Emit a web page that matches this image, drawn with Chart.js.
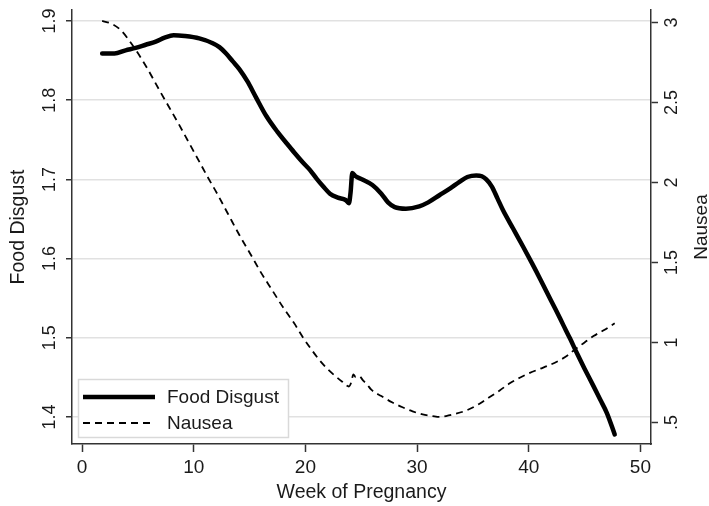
<!DOCTYPE html>
<html><head><meta charset="utf-8">
<script src="https://cdn.jsdelivr.net/npm/chart.js@4.4.1/dist/chart.umd.min.js"></script>
<style>html,body{margin:0;padding:0;background:#fff;}#wrap{width:709px;height:506px;}</style>
</head><body><div id="wrap"><canvas id="c" width="709" height="506"></canvas></div>
<script>
const disgustWeeks  = [1.8, 2.9, 3.9, 4.8, 5.7, 6.6, 7.4, 8.2, 9.2, 10.5, 11.7, 12.3, 12.9, 13.5, 14.1, 14.8, 15.6, 16.5, 17.5, 18.3, 19.0, 19.8, 20.4, 21.0, 21.6, 22.2, 22.9, 23.6, 23.9, 24.05, 24.2, 24.5, 25.1, 26.0, 26.8, 27.4, 28.0, 29.0, 30.2, 31.0, 32.0, 33.0, 33.8, 34.5, 35.3, 35.8, 36.2, 36.7, 37.2, 37.7, 38.6, 39.5, 40.3, 41.0, 41.6, 42.4, 43.1, 43.7, 44.3, 45.0, 45.8, 46.4, 47.0, 47.7];
const disgustValues = [1.859, 1.859, 1.863, 1.866, 1.870, 1.874, 1.879, 1.882, 1.881, 1.878, 1.872, 1.867, 1.859, 1.849, 1.839, 1.824, 1.803, 1.780, 1.760, 1.746, 1.734, 1.721, 1.712, 1.701, 1.691, 1.682, 1.677, 1.674, 1.670, 1.684, 1.708, 1.704, 1.700, 1.693, 1.682, 1.671, 1.665, 1.663, 1.666, 1.671, 1.680, 1.689, 1.697, 1.703, 1.705, 1.704, 1.700, 1.691, 1.676, 1.661, 1.638, 1.615, 1.594, 1.575, 1.558, 1.536, 1.516, 1.499, 1.481, 1.461, 1.439, 1.422, 1.405, 1.378];
const nauseaWeeks  = [1.8, 2.7, 3.5, 4.4, 5.7, 6.9, 7.8, 8.7, 9.6, 10.5, 11.2, 12.1, 13.1, 14.1, 15.1, 16.0, 17.0, 18.0, 19.0, 19.8, 20.5, 21.2, 21.9, 22.6, 23.3, 23.9, 24.1, 24.3, 24.5, 24.8, 25.2, 25.5, 25.9, 26.8, 27.8, 28.7, 29.6, 30.5, 31.4, 32.0, 32.6, 33.5, 34.4, 35.3, 36.2, 37.4, 38.3, 39.2, 40.1, 41.0, 41.9, 42.8, 43.5, 44.1, 45.0, 45.8, 46.8, 47.7];
const nauseaValues = [3.01, 2.99, 2.95, 2.87, 2.73, 2.58, 2.47, 2.36, 2.245, 2.13, 2.04, 1.93, 1.80, 1.67, 1.55, 1.44, 1.33, 1.22, 1.12, 1.03, 0.96, 0.895, 0.84, 0.795, 0.755, 0.725, 0.75, 0.80, 0.785, 0.79, 0.76, 0.74, 0.705, 0.665, 0.625, 0.595, 0.57, 0.55, 0.54, 0.535, 0.54, 0.555, 0.575, 0.605, 0.645, 0.70, 0.745, 0.78, 0.81, 0.835, 0.86, 0.89, 0.92, 0.955, 1.00, 1.04, 1.08, 1.12];
const seriesLabels = ['Food Disgust', 'Nausea'];
const xTicks = [0, 10, 20, 30, 40, 50];
const xTickLabels = ['0', '10', '20', '30', '40', '50'];
const leftTicks = [1.4, 1.5, 1.6, 1.7, 1.8, 1.9];
const leftTickLabels = ['1.4', '1.5', '1.6', '1.7', '1.8', '1.9'];
const rightTicks = [0.5, 1, 1.5, 2, 2.5, 3];
const rightTickLabels = ['.5', '1', '1.5', '2', '2.5', '3'];
const xTitle = 'Week of Pregnancy';
const leftTitle = 'Food Disgust';
const rightTitle = 'Nausea';

const FONT = '"Liberation Sans", Arial, Helvetica, sans-serif';
const INK = '#1a1a1a';
const AXIS = '#333';

function pts(xs, ys){ return xs.map((x,i)=>({x:x, y:ys[i]})); }

const textPlugin = {
  id: 'texts',
  afterDraw(chart){
    const ctx = chart.ctx;
    const sx = chart.scales.x, sl = chart.scales.yL, sr = chart.scales.yR;
    const ca = chart.chartArea;
    ctx.save();
    ctx.fillStyle = INK;
    ctx.font = '19px ' + FONT;
    ctx.textAlign = 'center'; ctx.textBaseline = 'alphabetic';
    xTicks.forEach((v,i)=>ctx.fillText(xTickLabels[i], sx.getPixelForValue(v), 473));
    ctx.font = '19.5px ' + FONT;
    ctx.fillText(xTitle, (ca.left + ca.right)/2, 498);
    function rot(text, x, y, font){
      ctx.save(); ctx.translate(x, y); ctx.rotate(-Math.PI/2);
      ctx.font = font; ctx.textAlign = 'center'; ctx.textBaseline = 'alphabetic';
      ctx.fillText(text, 0, 0); ctx.restore();
    }
    leftTicks.forEach((v,i)=>rot(leftTickLabels[i], 55, sl.getPixelForValue(v), '18px ' + FONT));
    rightTicks.forEach((v,i)=>rot(rightTickLabels[i], 677, sr.getPixelForValue(v), '18px ' + FONT));
    const midY = (ca.top + ca.bottom)/2;
    rot(leftTitle, 24, midY, '19.5px ' + FONT);
    rot(rightTitle, 707, midY, '19px ' + FONT);

    const bx = 78.5, by = 379.5, bw = 210, bh = 58;
    ctx.fillStyle = '#fff';
    ctx.fillRect(bx, by, bw, bh);
    ctx.strokeStyle = '#d9d9d9'; ctx.lineWidth = 1.5;
    ctx.strokeRect(bx, by, bw, bh);
    const rows = [397, 423];
    chart.data.datasets.forEach((ds, i)=>{
      ctx.save();
      ctx.strokeStyle = ds.borderColor; ctx.lineWidth = ds.borderWidth;
      ctx.setLineDash(ds.borderDash || []);
      ctx.beginPath(); ctx.moveTo(83, rows[i]); ctx.lineTo(155, rows[i]); ctx.stroke();
      ctx.restore();
      ctx.fillStyle = INK; ctx.font = '19px ' + FONT;
      ctx.textAlign = 'left'; ctx.textBaseline = 'middle';
      ctx.fillText(ds.label, 167, rows[i] + 1);
    });
    ctx.restore();
  }
};

const bgPlugin = {
  id: 'bg',
  beforeDraw(chart){
    const ctx = chart.ctx; ctx.save(); ctx.fillStyle = '#fff';
    ctx.fillRect(0, 0, chart.width, chart.height); ctx.restore();
  }
};

new Chart(document.getElementById('c'), {
  type: 'line',
  data: {
    datasets: [
      { label: seriesLabels[0], data: pts(disgustWeeks, disgustValues), yAxisID: 'yL',
        borderColor: '#000', borderWidth: 4.5, pointRadius: 0, fill: false,
        cubicInterpolationMode: 'monotone', borderCapStyle: 'round', borderJoinStyle: 'round' },
      { label: seriesLabels[1], data: pts(nauseaWeeks, nauseaValues), yAxisID: 'yR',
        borderColor: '#000', borderWidth: 1.8, borderDash: [7, 5], pointRadius: 0, fill: false,
        cubicInterpolationMode: 'monotone' }
    ]
  },
  options: {
    responsive: false, animation: false, devicePixelRatio: 1,
    layout: { padding: { top: 10, left: 0, right: 0, bottom: 0 } },
    plugins: { legend: { display: false }, tooltip: { enabled: false } },
    scales: {
      x: {
        type: 'linear', position: 'bottom', min: -0.9, max: 50.95,
        afterBuildTicks: s => { s.ticks = xTicks.map(v=>({value:v})); },
        afterFit: s => { s.height = 62; },
        ticks: { display: false },
        grid: { display: true, drawOnChartArea: false, drawTicks: true, tickLength: 8, tickColor: AXIS, tickWidth: 1.5 },
        border: { display: true, color: AXIS, width: 1.5 }
      },
      yL: {
        type: 'linear', position: 'left', min: 1.3659, max: 1.9139,
        afterBuildTicks: s => { s.ticks = leftTicks.map(v=>({value:v})); },
        afterFit: s => { s.width = 72; },
        ticks: { display: false },
        grid: { display: true, drawOnChartArea: true, color: '#e1e1e1', lineWidth: 1.5, drawTicks: true, tickLength: 6, tickColor: AXIS, tickWidth: 1.5 },
        border: { display: true, color: AXIS, width: 1.5 }
      },
      yR: {
        type: 'linear', position: 'right', min: 0.3656, max: 3.078,
        afterBuildTicks: s => { s.ticks = rightTicks.map(v=>({value:v})); },
        afterFit: s => { s.width = 58; },
        ticks: { display: false },
        grid: { display: true, drawOnChartArea: false, drawTicks: true, tickLength: 7, tickColor: AXIS, tickWidth: 1.5 },
        border: { display: true, color: AXIS, width: 1.5 }
      }
    }
  },
  plugins: [bgPlugin, textPlugin]
});
</script></body></html>
